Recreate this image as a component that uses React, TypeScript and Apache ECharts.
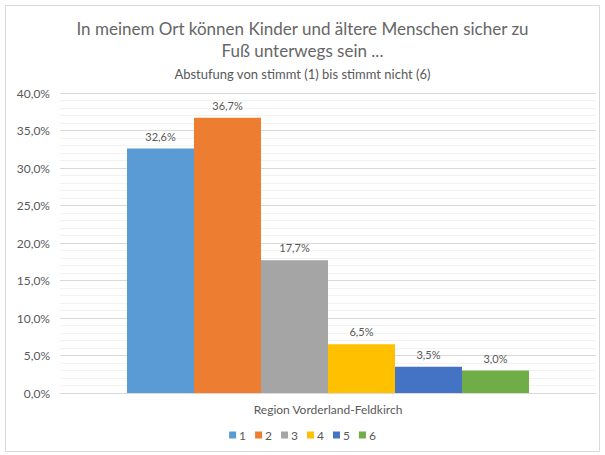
import React, { useEffect, useRef } from "react";
import * as echarts from "echarts";

const categories = ["Region Vorderland-Feldkirch"];
const seriesNames = ["1", "2", "3", "4", "5", "6"];
const seriesValues = [32.6, 36.7, 17.7, 6.5, 3.5, 3.0];
const seriesColors = ["#5B9BD5", "#ED7D31", "#A5A5A5", "#FFC000", "#4472C4", "#70AD47"];
const yTicks = [0, 5, 10, 15, 20, 25, 30, 35, 40];

const fmt = (v: number) => v.toFixed(1).replace(".", ",") + "%";

export default function App() {
  const ref = useRef<HTMLDivElement>(null);
  useEffect(() => {
    if (!ref.current) return;
    const chart = echarts.init(ref.current, null, { renderer: "svg" });
    const font = "Lato, 'Open Sans', sans-serif";
    chart.setOption({
      animation: false,
      backgroundColor: "#ffffff",
      textStyle: { fontFamily: font },
      title: [
        {
          text: "In meinem Ort können Kinder und ältere Menschen sicher zu\nFuß unterwegs sein ...",
          left: "center",
          top: 12,
          textStyle: { fontSize: 17, fontWeight: "normal", color: "#666666", lineHeight: 22, fontFamily: font },
        },
        {
          text: "Abstufung von stimmt (1) bis stimmt nicht (6)",
          left: "center",
          top: 62,
          textStyle: { fontSize: 13, fontWeight: "normal", color: "#595959", fontFamily: font },
        },
      ],
      graphic: [
        {
          type: "rect",
          shape: { x: 5.5, y: 5.5, width: 594, height: 446 },
          style: { fill: "none", stroke: "#D9D9D9", lineWidth: 1 },
          silent: true,
        },
      ],
      legend: {
        bottom: 9,
        left: "center",
        itemWidth: 7,
        itemHeight: 7,
        itemGap: 9,
        icon: "rect",
        textStyle: { fontSize: 12, color: "#595959", padding: [0, 0, 0, -2] },
        data: seriesNames,
      },
      grid: { left: 60, right: 9, top: 93, bottom: 62 },
      xAxis: {
        type: "category",
        data: categories,
        axisLine: { lineStyle: { color: "#D9D9D9" } },
        axisTick: { show: false },
        axisLabel: { fontSize: 12, color: "#595959", margin: 10 },
      },
      yAxis: {
        type: "value",
        min: yTicks[0],
        max: yTicks[yTicks.length - 1],
        interval: 5,
        axisLine: { show: false },
        axisTick: { show: false },
        axisLabel: { fontSize: 12, color: "#595959", formatter: (v: number) => fmt(v), margin: 10 },
        splitLine: { lineStyle: { color: "#D9D9D9" } },
        minorTick: { show: false, splitNumber: 5 },
        minorSplitLine: { show: true, lineStyle: { color: "#F2F2F2" } },
      },
      series: seriesNames.map((name, i) => ({
        name,
        type: "bar",
        data: [seriesValues[i]],
        itemStyle: { color: seriesColors[i] },
        barGap: "0%",
        barCategoryGap: "25%",
        label: {
          show: true,
          position: "top",
          distance: 7,
          fontSize: 11,
          color: "#595959",
          formatter: (p: any) => fmt(p.value),
        },
      })),
    });
    return () => chart.dispose();
  }, []);
  return (
    <div
      ref={ref}
      style={{ position: "absolute", left: 0, top: 0, width: 605, height: 455 }}
    />
  );
}
